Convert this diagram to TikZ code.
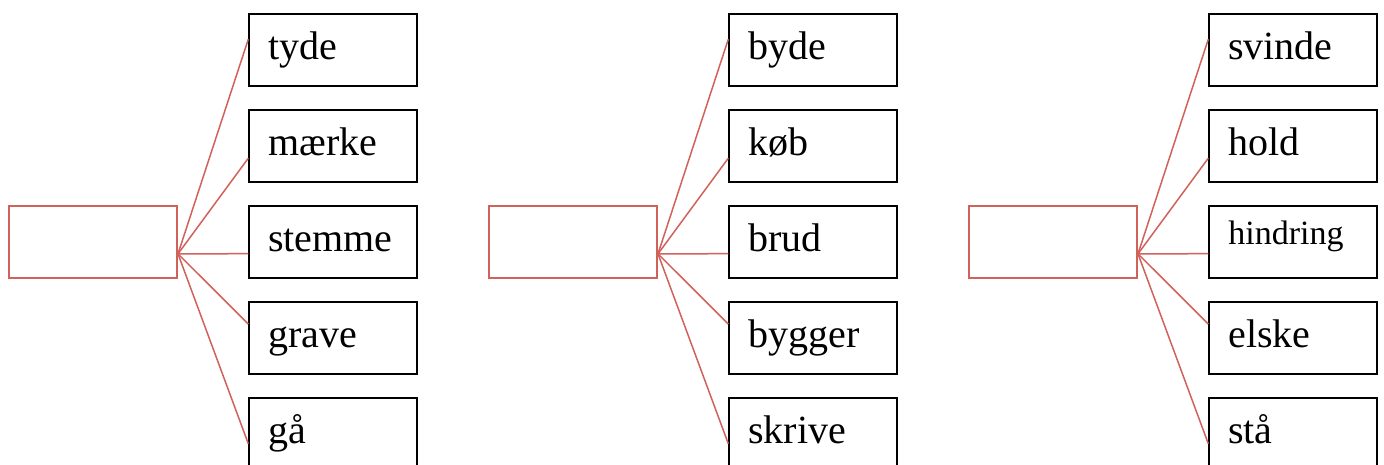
\documentclass[tikz,border=0pt]{standalone}
\usepackage{fontspec}
\setmainfont{Liberation Serif}
\usetikzlibrary{calc}
\definecolor{accentred}{HTML}{D0625A}
\tikzset{
  rootbox/.style={draw=accentred, line width=1.7pt, minimum width=168pt, minimum height=72pt, inner sep=0pt, anchor=north west},
  wordbox/.style={draw=black, line width=2pt, minimum width=168pt, minimum height=72pt, anchor=north west,
    inner xsep=19pt, inner ysep=0pt, text width=130pt, align=left,
    text height=29pt, text depth=10pt, font=\fontsize{40}{48}\selectfont},
  smallword/.style={font=\fontsize{34}{40}\selectfont, text height=22pt, text depth=16pt},
  spoke/.style={draw=accentred, line width=1.5pt}
}
\begin{document}
\begin{tikzpicture}[x=1pt,y=-1pt]
\useasboundingbox (0,0) rectangle (1384,464);
% empty boxes on the left
\foreach \g/\ox in {a/0,b/480,c/960}
  \node[rootbox] (root\g) at (8.3+\ox,205) {};
% word boxes
\foreach \w/\opt [count=\i] in {tyde/,mærke/,stemme/,grave/,gå/}
  \node[wordbox,\opt] (a\i) at (248.3,12.7+96*\i-96) {\w};
\foreach \w/\opt [count=\i] in {byde/,køb/,brud/,bygger/,skrive/}
  \node[wordbox,\opt] (b\i) at (728.3,12.7+96*\i-96) {\w};
\foreach \w/\opt [count=\i] in {svinde/,hold/,hindring/smallword,elske/,stå/}
  \node[wordbox,\opt] (c\i) at (1208.3,12.7+96*\i-96) {\w};
% spokes
\foreach \g in {a,b,c}
  \foreach \i/\dy in {1/-10.5,2/12.5,3/12,4/-13.7,5/10}
    \draw[spoke] ($(root\g.east)+(0,12)$) -- ($(\g\i.west)+(0,\dy)$);
\end{tikzpicture}
\end{document}
